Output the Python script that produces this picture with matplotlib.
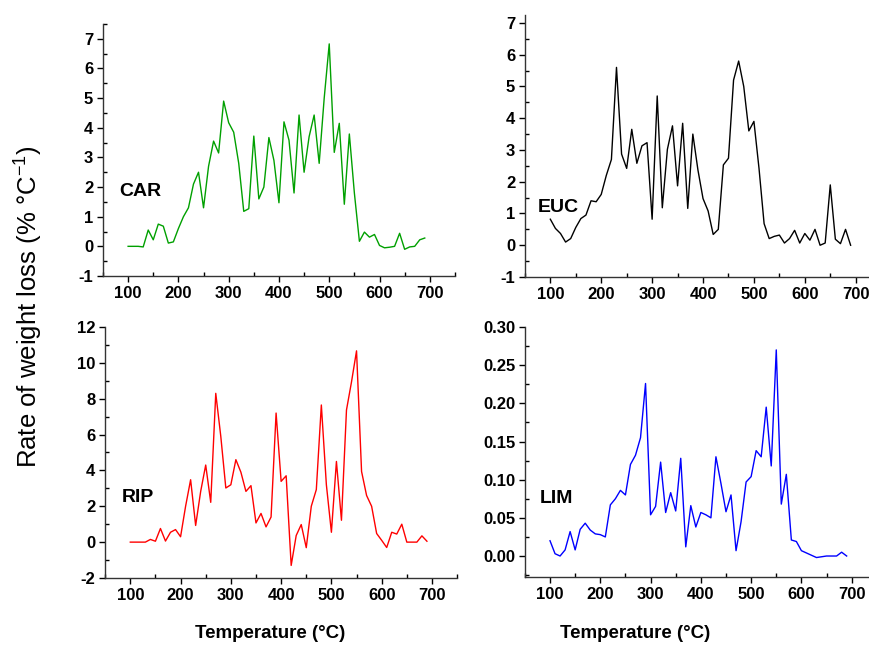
import matplotlib
matplotlib.use('Agg')
import matplotlib.pyplot as plt
from matplotlib.ticker import MultipleLocator, FormatStrFormatter

plt.rcParams['font.family'] = ['Liberation Sans', 'DejaVu Sans']
plt.rcParams['axes.unicode_minus'] = False
plt.rcParams['mathtext.default'] = 'regular'

temp = list(range(100, 700, 10))

car = [0, 0, 0, -0.02, 0.55, 0.22, 0.75, 0.68, 0.11, 0.15,
       0.6, 1.0, 1.3, 2.1, 2.5, 1.3, 2.7, 3.55, 3.15, 4.9,
       4.17, 3.85, 2.8, 1.18, 1.27, 3.72, 1.6, 2.0, 3.67, 2.9,
       1.47, 4.2, 3.58, 1.8, 4.43, 2.5, 3.7, 4.43, 2.8, 5.0,
       6.83, 3.17, 4.15, 1.42, 3.79, 1.8, 0.17, 0.48, 0.31, 0.4,
       0.03, -0.05, -0.03, 0.0, 0.44, -0.1, -0.02, 0.0, 0.22, 0.28]

euc = [0.82, 0.53, 0.37, 0.1, 0.21, 0.56, 0.84, 0.95, 1.4, 1.37,
       1.6, 2.2, 2.7, 5.6, 2.87, 2.42, 3.65, 2.58, 3.13, 3.23,
       0.82, 4.7, 1.18, 3.02, 3.76, 1.87, 3.84, 1.16, 3.5, 2.37,
       1.47, 1.08, 0.34, 0.5, 2.53, 2.74, 5.2, 5.8, 5.0, 3.6,
       3.9, 2.42, 0.68, 0.21, 0.28, 0.32, 0.07, 0.21, 0.47, 0.07,
       0.37, 0.16, 0.5, 0.0, 0.07, 1.9, 0.19, 0.05, 0.5, 0.0]

rip = [0, 0, 0, 0, 0.15, 0.05, 0.76, 0.06, 0.55, 0.7,
       0.3, 2.0, 3.48, 0.93, 2.83, 4.3, 2.22, 8.3, 5.9, 3.02,
       3.2, 4.6, 3.9, 2.83, 3.15, 1.07, 1.6, 0.85, 1.4, 7.2,
       3.39, 3.7, -1.3, 0.37, 0.98, -0.31, 2.0, 2.93, 7.65, 3.2,
       0.55, 4.5, 1.22, 7.37, 8.94, 10.67, 3.94, 2.6, 2.0, 0.48,
       0.1, -0.3, 0.55, 0.45, 1.0, 0.0, 0.0, 0.0, 0.35, 0.05]

lim = [0.020, 0.003, 0.0, 0.008, 0.032, 0.008, 0.035, 0.043, 0.034, 0.029,
       0.028, 0.025, 0.067, 0.075, 0.086, 0.080, 0.120, 0.132, 0.155, 0.226,
       0.054, 0.065, 0.123, 0.057, 0.083, 0.059, 0.128, 0.012, 0.066, 0.038,
       0.057, 0.054, 0.050, 0.130, 0.095, 0.058, 0.080, 0.007, 0.045, 0.097,
       0.104, 0.138, 0.130, 0.195, 0.118, 0.270, 0.068, 0.107, 0.021, 0.019,
       0.007, 0.004, 0.001, -0.002, -0.001, 0.0, 0.0, 0.0, 0.005, 0.0]

def panel(fig, rect, y, color, name, ylim, ystep, yminor, lab_xy, fmt='%g'):
    ax = fig.add_axes(rect)
    ax.plot(temp, y, color=color, lw=1.0)
    ax.set_xlim(50, 750)
    ax.set_ylim(*ylim)
    ax.xaxis.set_minor_locator(MultipleLocator(50))
    ax.yaxis.set_major_locator(MultipleLocator(ystep))
    ax.yaxis.set_minor_locator(MultipleLocator(yminor))
    ax.yaxis.set_major_formatter(FormatStrFormatter(fmt))
    ax.set_xticks(range(100, 800, 100))
    ax.spines['top'].set_visible(False)
    ax.spines['right'].set_visible(False)
    for s in ['left', 'bottom']:
        ax.spines[s].set_linewidth(1.0)
        ax.spines[s].set_color('#333333')
    ax.tick_params(which='major', direction='out', length=4, width=1, labelsize=12, pad=3)
    ax.tick_params(which='minor', direction='in', length=3, width=1)
    for t in ax.get_xticklabels() + ax.get_yticklabels():
        t.set_fontweight('bold')
    ax.text(lab_xy[0], lab_xy[1], name, fontsize=14, fontweight='bold', ha='center', va='center')
    return ax

fig = plt.figure(figsize=(8.69, 6.46), dpi=100)

panel(fig, [0.1185, 0.5728, 0.405, 0.390], car, '#00a000', 'CAR', (-1, 7.5), 1, 0.5, (125, 1.85))
panel(fig, [0.604, 0.5712, 0.41, 0.4056], euc, 'black', 'EUC', (-1, 7.25), 1, 0.5, (116, 1.2))
panel(fig, [0.121, 0.1053, 0.405, 0.3885], rip, '#ff0000', 'RIP', (-2, 12), 2, 1, (115, 2.5))
panel(fig, [0.604, 0.1068, 0.405, 0.387], lim, '#0000ff', 'LIM', (-0.0275, 0.30), 0.05, 0.025, (113, 0.075), fmt='%.2f')

fig.text(0.311, 0.02, 'Temperature (°C)', fontsize=13.5, fontweight='bold', ha='center', va='center')
fig.text(0.731, 0.02, 'Temperature (°C)', fontsize=13.5, fontweight='bold', ha='center', va='center')
fig.text(0.033, 0.525, 'Rate of weight loss (% °C$^{-1}$)', fontsize=18.5, rotation=90, ha='center', va='center')

fig.savefig('out.png', dpi=100)
